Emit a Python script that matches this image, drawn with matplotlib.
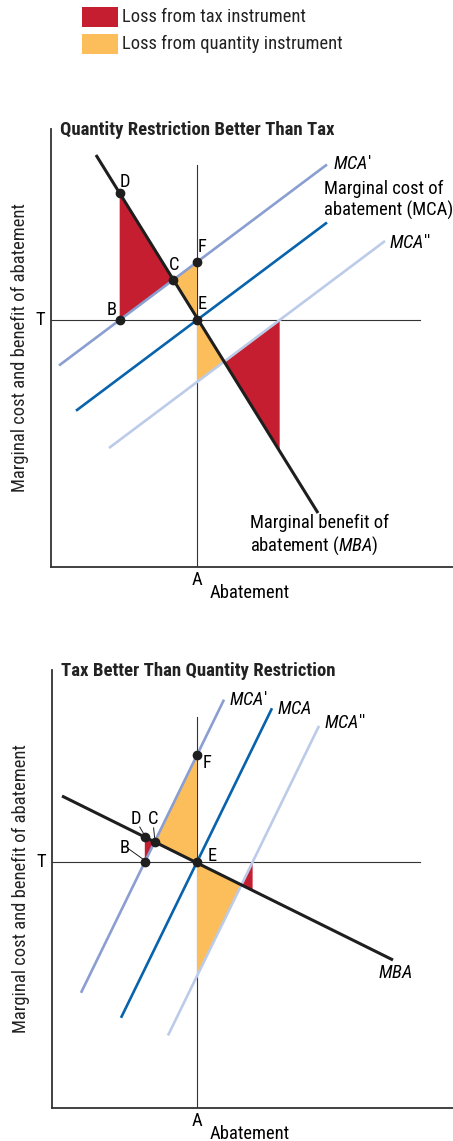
import numpy as np
import matplotlib.pyplot as plt
from matplotlib.patches import Polygon, Rectangle

plt.rcParams['font.family'] = ['Roboto Condensed', 'Liberation Sans', 'DejaVu Sans']
plt.rcParams['mathtext.fontset'] = 'custom'
plt.rcParams['mathtext.it'] = 'Roboto Condensed:italic'
plt.rcParams['mathtext.rm'] = 'Roboto Condensed'

RED = '#C41E30'
YELLOW = '#FCBE5A'
INK = '#1E1E1E'
AXIS = '#333333'
MCA_COLORS = ['#8A9ED2', '#0862AC', '#BCCBE8']   # MCA', MCA, MCA''
FS = 13.3

legend_labels = ['Loss from tax instrument', 'Loss from quantity instrument']
legend_colors = [RED, YELLOW]

titles = ['Quantity Restriction Better Than Tax', 'Tax Better Than Quantity Restriction']
q_opt = [146, 145]          # abatement level A
tax = [247, 246]            # tax level T
mba_x = [[45, 267], [10, 341]]
mba_y = [[412, 54], [312, 148]]
mca_slope = [0.75, 2.05]
mca_shift = [[58, 0, -62], [107, 0, -114]]              # MCA', MCA, MCA''
mca_x = [[[8, 276], [25, 276], [58, 334]],
         [[29, 172], [69, 220], [116, 267]]]
a_line_top = [402, 391]
t_line_end = [369, 368]

fig = plt.figure(figsize=(4.53, 11.41), dpi=100)

# legend at the top
lg = fig.add_axes([0, 1 - 70 / 1141, 1, 70 / 1141])
lg.set_xlim(0, 453)
lg.set_ylim(70, 0)
lg.axis('off')
for i, (lab, col) in enumerate(zip(legend_labels, legend_colors)):
    y0 = 7 + i * 27
    lg.add_patch(Rectangle((82, y0), 36, 20, color=col, lw=0))
    lg.text(122, y0 + 10, lab, fontsize=FS, va='center', ha='left', color='#222222')

panel_boxes = [(51, 567), (52, 1108)]


def mba_at(k, x):
    m = (mba_y[k][1] - mba_y[k][0]) / (mba_x[k][1] - mba_x[k][0])
    return mba_y[k][0] + m * (x - mba_x[k][0])


def inter_mba(k, shift):
    m = (mba_y[k][1] - mba_y[k][0]) / (mba_x[k][1] - mba_x[k][0])
    b0 = mba_y[k][0] - m * mba_x[k][0]
    s = mca_slope[k]
    c0 = tax[k] + shift - s * q_opt[k]
    x = (c0 - b0) / (m - s)
    return x, b0 + m * x


for k in range(2):
    left, bottom = panel_boxes[k]
    ax = fig.add_axes([left / 453, 1 - bottom / 1141, (453 - left) / 453, 438.5 / 1141])
    ax.set_xlim(0, 453 - left)
    ax.set_ylim(0, 438.5)
    for sp in ['top', 'right']:
        ax.spines[sp].set_visible(False)
    for sp in ['left', 'bottom']:
        ax.spines[sp].set_color(AXIS)
        ax.spines[sp].set_linewidth(1.3)
    ax.set_xticks([])
    ax.set_yticks([])
    ax.patch.set_alpha(0)

    A, T, s = q_opt[k], tax[k], mca_slope[k]
    sh = mca_shift[k]

    # reference lines
    ax.plot([0, t_line_end[k]], [T, T], color=AXIS, lw=0.8, zorder=1)
    ax.plot([A, A], [0, a_line_top[k]], color=AXIS, lw=0.8, zorder=1)

    # key points
    xB = A - sh[0] / s
    B = (xB, T)
    D = (xB, mba_at(k, xB))
    C = inter_mba(k, sh[0])
    F = (A, T + sh[0])
    E = (A, T)
    G = inter_mba(k, sh[2])
    xH = A - sh[2] / s
    H = (xH, T)
    Hb = (xH, mba_at(k, xH))
    K = (A, T + sh[2])

    for poly, col in [([B, D, C], RED), ([H, G, Hb], RED),
                      ([C, F, E], YELLOW), ([E, K, G], YELLOW)]:
        ax.add_patch(Polygon(poly, closed=True, color=col, lw=0, zorder=2))

    for j in range(3):
        xs = np.array(mca_x[k][j], dtype=float)
        ys = T + sh[j] + s * (xs - A)
        ax.plot(xs, ys, color=MCA_COLORS[j], lw=1.9, zorder=3, solid_capstyle='butt')

    ax.plot(mba_x[k], mba_y[k], color=INK, lw=2.2, zorder=4, solid_capstyle='butt')

    for p in [B, D, C, F, E]:
        ax.plot(*p, 'o', color=INK, ms=6, zorder=5)

    ax.text(9, 437, titles[k], fontsize=13.5, fontweight='bold', ha='left', va='center',
            color='#222222')
    ax.text(-6, T, 'T', fontsize=FS, ha='right', va='center', clip_on=False)
    ax.text(A, -13, 'A', fontsize=FS, ha='center', va='center', clip_on=False)
    ax.text(A + 13, -26, 'Abatement', fontsize=FS, ha='left', va='center', clip_on=False)
    ax.text(-31, 219, 'Marginal cost and benefit of abatement', fontsize=FS, rotation=90,
            ha='center', va='center', clip_on=False, color='#222222')

    if k == 0:
        ax.text(D[0], D[1] + 11, 'D', fontsize=FS, ha='left', va='center')
        ax.text(C[0] + 1, C[1] + 15, 'C', fontsize=FS, ha='center', va='center')
        ax.text(F[0] + 1, F[1] + 15, 'F', fontsize=FS, ha='left', va='center')
        ax.text(E[0] + 1, E[1] + 16, 'E', fontsize=FS, ha='left', va='center')
        ax.text(B[0] - 3, B[1] + 10, 'B', fontsize=FS, ha='right', va='center')
        ax.text(282, 403, "$\\mathit{MCA}$'", fontsize=FS, ha='left', va='center')
        ax.text(273, 367, 'Marginal cost of\nabatement (MCA)', fontsize=FS,
                ha='left', va='center', linespacing=1.15)
        ax.text(338, 324, "$\\mathit{MCA}$''", fontsize=FS, ha='left', va='center')
        ax.text(199, 32, 'Marginal benefit of\nabatement ($\\mathit{MBA}$)', fontsize=FS,
                ha='left', va='center', linespacing=1.15)
    else:
        ax.text(D[0] - 9, D[1] + 18, 'D', fontsize=FS, ha='center', va='center')
        ax.plot([D[0] - 5, D[0] - 1], [D[1] + 10, D[1] + 3], color=INK, lw=0.7)
        ax.text(C[0] - 1, C[1] + 23, 'C', fontsize=FS, ha='center', va='center')
        ax.plot([C[0] - 1, C[0]], [C[1] + 14, C[1] + 4], color=INK, lw=0.7)
        ax.text(B[0] - 20, B[1] + 14, 'B', fontsize=FS, ha='center', va='center')
        ax.plot([B[0] - 16, B[0] - 2], [B[1] + 13, B[1] + 3], color=INK, lw=0.7)
        ax.text(E[0] + 11, E[1] + 6, 'E', fontsize=FS, ha='left', va='center')
        ax.text(F[0] + 6, F[1] - 8, 'F', fontsize=FS, ha='left', va='center')
        ax.text(177, 408, "$\\mathit{MCA}$'", fontsize=FS, ha='left', va='center')
        ax.text(225, 399, "$\\mathit{MCA}$", fontsize=FS, ha='left', va='center')
        ax.text(272, 385, "$\\mathit{MCA}$''", fontsize=FS, ha='left', va='center')
        ax.text(343, 135, "$\\mathit{MBA}$", fontsize=FS, ha='center', va='center')

fig.savefig('out.png', dpi=100)
